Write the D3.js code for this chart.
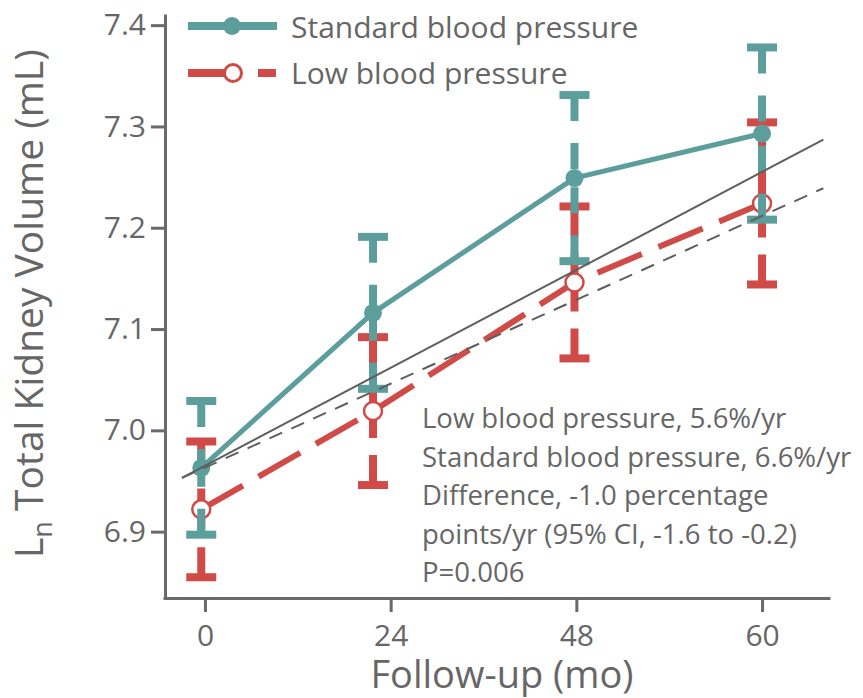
<!DOCTYPE html>
<html>
<head>
<meta charset="utf-8">
<script src="https://cdn.jsdelivr.net/npm/d3@7"></script>
<style>
  body { margin: 0; background: #fff; }
  text { font-family: "Open Sans", sans-serif; fill: #666; }
</style>
</head>
<body>
<div id="chart"></div>
<script>
// follow-up visits (tick labels) and where each group's mean was plotted on the visit axis
const visits = ["0", "24", "48", "60"];
const visitX = [-0.02, 0.905, 1.99, 3.0];

// Ln total kidney volume, mean and half-width of the error bar
const standardMean = [6.963, 7.116, 7.249, 7.293];
const standardErr = [0.066, 0.075, 0.082, 0.085];
const lowMean = [6.922, 7.019, 7.146, 7.224];
const lowErr = [0.067, 0.073, 0.075, 0.080];

// fitted slopes (start / end of each regression line)
const trendX = [-0.124, 3.33];
const standardTrend = [6.953, 7.287];
const lowTrend = [6.953, 7.239];

const yTicks = [6.9, 7.0, 7.1, 7.2, 7.3, 7.4];

const notes = [
  "Low blood pressure, 5.6%/yr",
  "Standard blood pressure, 6.6%/yr",
  "Difference, -1.0 percentage",
  "points/yr (95% CI, -1.6 to -0.2)",
  "P=0.006",
];

const TEAL = "#5b9e9b";
const RED = "#d04b47";
const AXIS = "#6a6a6a";

const width = 863, height = 698;
const svg = d3.select("#chart").append("svg")
  .attr("width", width).attr("height", height);

const x = d3.scaleLinear().domain([-0.226, 3.366]).range([163, 830]);
const y = d3.scaleLinear().domain([6.8345, 7.411]).range([598, 14]);

// axes
const yAxis = svg.append("g")
  .attr("transform", `translate(${x.range()[0] + 2},0)`)
  .call(d3.axisLeft(y).tickValues(yTicks).tickFormat(d3.format(".1f"))
    .tickSize(14).tickSizeOuter(0).tickPadding(5));
const xAxis = svg.append("g")
  .attr("transform", `translate(0,${y.range()[0]})`)
  .call(d3.axisBottom(x).tickValues([0, 1, 2, 3]).tickFormat((d) => visits[d])
    .tickSize(14).tickSizeOuter(0).tickPadding(13));

[yAxis, xAxis].forEach((ax) => {
  ax.select(".domain").attr("stroke", AXIS).attr("stroke-width", 3);
  ax.selectAll(".tick line").attr("stroke", AXIS).attr("stroke-width", 3);
  ax.selectAll(".tick text").attr("fill", "#666")
    .style("font-size", "30px").style("font-family", "Open Sans, sans-serif");
});

// axis titles
svg.append("text")
  .attr("x", 502).attr("y", 688)
  .attr("text-anchor", "middle")
  .style("font-size", "38px")
  .text("Follow-up (mo)");

const yTitle = svg.append("text")
  .attr("transform", "translate(43,558) rotate(-90)")
  .style("font-size", "39px");
yTitle.append("tspan").text("L");
yTitle.append("tspan").attr("dy", 9).style("font-size", "27px").text("n");
yTitle.append("tspan").attr("dy", -9).text(" Total Kidney Volume (mL)");

// error bars: each half dashed from its cap toward the mean
function errorBars(g, means, errs, color, dash) {
  const rows = means.map((m, i) => ({ i, m, e: errs[i] }));
  const halves = rows.flatMap((d) => [
    { i: d.i, from: d.m + d.e, to: d.m },
    { i: d.i, from: d.m - d.e, to: d.m },
  ]);
  g.selectAll(".stem").data(halves).join("line")
    .attr("class", "stem")
    .attr("x1", (d) => x(visitX[d.i])).attr("x2", (d) => x(visitX[d.i]))
    .attr("y1", (d) => y(d.from)).attr("y2", (d) => y(d.to))
    .attr("stroke", color).attr("stroke-width", 8)
    .attr("stroke-dasharray", dash);
  g.selectAll(".cap").data(halves).join("line")
    .attr("class", "cap")
    .attr("x1", (d) => x(visitX[d.i]) - 15).attr("x2", (d) => x(visitX[d.i]) + 15)
    .attr("y1", (d) => y(d.from)).attr("y2", (d) => y(d.from))
    .attr("stroke", color).attr("stroke-width", 8);
}

const line = d3.line().x((d) => x(d[0])).y((d) => y(d[1]));

// low blood pressure group
const lowG = svg.append("g");
lowG.append("path")
  .attr("d", line(lowMean.map((m, i) => [visitX[i], m])))
  .attr("fill", "none").attr("stroke", RED).attr("stroke-width", 6)
  .attr("stroke-dasharray", "48,18");
errorBars(lowG.append("g"), lowMean, lowErr, RED, "30,17");
lowG.selectAll(".pt").data(lowMean).join("circle")
  .attr("class", "pt")
  .attr("cx", (d, i) => x(visitX[i])).attr("cy", (d) => y(d))
  .attr("r", 9).attr("fill", "#fff")
  .attr("stroke", RED).attr("stroke-width", 2.5);

// standard blood pressure group
const stdG = svg.append("g");
errorBars(stdG.append("g"), standardMean, standardErr, TEAL, "26,22");
stdG.append("path")
  .attr("d", line(standardMean.map((m, i) => [visitX[i], m])))
  .attr("fill", "none").attr("stroke", TEAL).attr("stroke-width", 5);
stdG.selectAll(".pt").data(standardMean).join("circle")
  .attr("class", "pt")
  .attr("cx", (d, i) => x(visitX[i])).attr("cy", (d) => y(d))
  .attr("r", 9).attr("fill", TEAL);

// regression lines
svg.append("path")
  .attr("d", line(trendX.map((t, i) => [t, standardTrend[i]])))
  .attr("stroke", "#5e5e5e").attr("stroke-width", 2).attr("fill", "none");
svg.append("path")
  .attr("d", line(trendX.map((t, i) => [t, lowTrend[i]])))
  .attr("stroke", "#5e5e5e").attr("stroke-width", 2).attr("fill", "none")
  .attr("stroke-dasharray", "14,10");

// legend
const legend = svg.append("g");
legend.append("line").attr("x1", 188).attr("x2", 277).attr("y1", 26).attr("y2", 26)
  .attr("stroke", TEAL).attr("stroke-width", 8);
legend.append("circle").attr("cx", 232).attr("cy", 26).attr("r", 9).attr("fill", TEAL);
legend.append("text").attr("x", 291).attr("y", 38).style("font-size", "30px")
  .text("Standard blood pressure");

legend.append("line").attr("x1", 188).attr("x2", 226).attr("y1", 73).attr("y2", 73)
  .attr("stroke", RED).attr("stroke-width", 8);
legend.append("line").attr("x1", 258).attr("x2", 276).attr("y1", 73).attr("y2", 73)
  .attr("stroke", RED).attr("stroke-width", 8);
legend.append("circle").attr("cx", 233).attr("cy", 73).attr("r", 8.5)
  .attr("fill", "#fff").attr("stroke", RED).attr("stroke-width", 3);
legend.append("text").attr("x", 291).attr("y", 84).style("font-size", "30px")
  .text("Low blood pressure");

// annotation
svg.append("g").selectAll("text").data(notes).join("text")
  .attr("x", 422).attr("y", (d, i) => 428 + i * 38.5)
  .style("font-size", "27.5px")
  .text((d) => d);
</script>
</body>
</html>
